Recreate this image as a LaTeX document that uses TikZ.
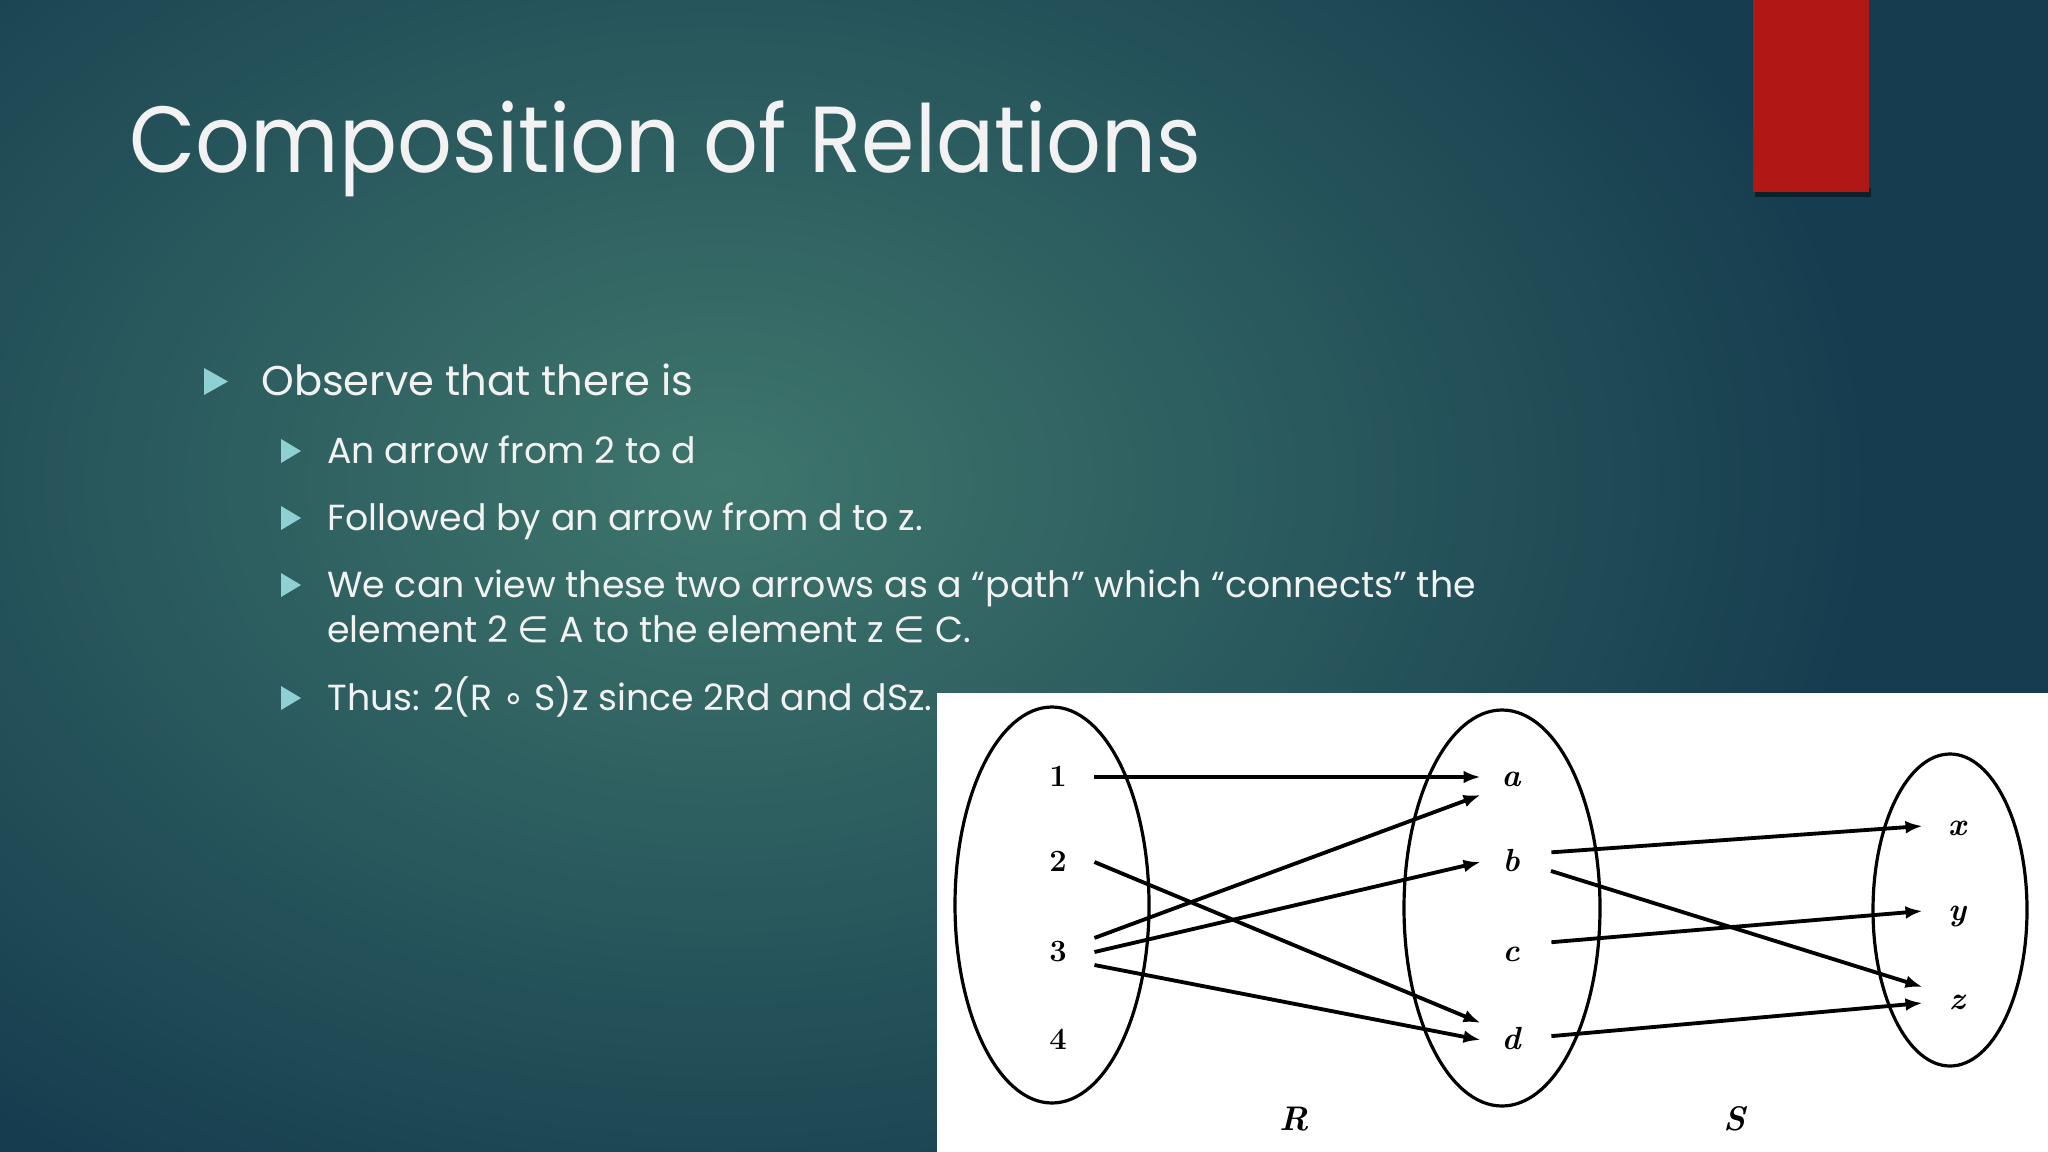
\documentclass[tikz,border=0pt]{standalone}
\usepackage{fontspec}
\setmainfont{Poppins}
\newfontfamily\titlefont{Poppins}[FakeStretch=0.915]
\newfontfamily\labfont{Latin Modern Roman}
\newfontfamily\symfont{DejaVu Sans}
\usetikzlibrary{arrows.meta}
\definecolor{bgdark}{HTML}{163D4F}
\definecolor{bglight}{HTML}{3E766C}
\definecolor{bulcol}{HTML}{8FD0D2}
\definecolor{redbox}{HTML}{B01815}
\definecolor{txt}{HTML}{F2F2F2}
\tikzset{
  titletext/.style={anchor=base west, inner sep=0pt, text=txt, font=\titlefont\fontsize{44}{50}\selectfont},
  lvlone/.style={anchor=base west, inner sep=0pt, text=txt, font=\fontsize{19.5}{23}\selectfont},
  lvltwo/.style={anchor=base west, inner sep=0pt, text=txt, font=\fontsize{17}{21}\selectfont},
  setline/.style={draw=black, line width=1.5pt},
  lab/.style={inner sep=0pt, text height=9pt, text depth=0pt, font=\labfont\fontsize{14.5}{16}\selectfont\bfseries},
  elemA/.style={lab, minimum width=33.75pt},
  elemB/.style={lab, minimum width=28.1pt, font=\labfont\fontsize{15}{16}\selectfont\bfseries\itshape},
  elemC/.style={lab, minimum width=31.9pt, font=\labfont\fontsize{15}{16}\selectfont\bfseries\itshape},
  relname/.style={inner sep=0pt, font=\labfont\fontsize{16}{17}\selectfont\bfseries\itshape},
  rel/.style={draw=black, line width=1.8pt, -{Latex[length=8pt,width=6pt]}},
  relout/.style={rel, shorten <=4.7pt}
}
\begin{document}
\begin{tikzpicture}[x=0.46875pt,y=-0.46875pt]
\useasboundingbox (0,0) rectangle (2048,1152);
% background
\fill[bgdark] (0,0) rectangle (2048,1152);
\begin{scope}
  \clip (0,0) rectangle (2048,1152);
  \shade[inner color=bglight, outer color=bgdark] (720,480) ellipse [x radius=1150, y radius=820];
\end{scope}
% red box with shadow
\fill[black, opacity=0.45] (1755,188) rectangle (1871,197);
\fill[redbox] (1753,0) rectangle (1869,192);
% title
\node[titletext] (title) at (129,173) {Composition of Relations};
% bullets
\fill[bulcol] (204,368) -- (228,381.5) -- (204,395) -- cycle;
\node[lvlone] (b1) at (261,395) {Observe that there is};
\fill[bulcol] (281,439) -- (301,451) -- (281,463) -- cycle;
\node[lvltwo] (b2) at (327,463) {An arrow from 2 to d};
\fill[bulcol] (281,506) -- (301,518) -- (281,530) -- cycle;
\node[lvltwo] (b3) at (327,530) {Followed by an arrow from d to z.};
\fill[bulcol] (281,573) -- (301,585) -- (281,597) -- cycle;
\node[lvltwo] (b4) at (327,597) {We can view these two arrows as a “path” which “connects” the};
\node[lvltwo] (b5) at (327,642) {element 2 {\symfont ∈} A to the element z {\symfont ∈} C.};
\fill[bulcol] (281,686) -- (301,698) -- (281,710) -- cycle;
\node[lvltwo] (b6) at (327,710) {Thus: 2(R {\symfont ∘} S)z since 2Rd and dSz.};
% picture
\fill[white] (937,693) rectangle (2048,1152);
\draw[setline] (1052,905) ellipse [x radius=97, y radius=198];
\draw[setline] (1502,908) ellipse [x radius=98, y radius=198];
\draw[setline] (1950,910) ellipse [x radius=77, y radius=156];
\node[elemA] (n1) at (1058,777) {1};
\node[elemA] (n2) at (1058,862) {2};
\node[elemA] (n3) at (1058,952) {3};
\node[elemA] (n4) at (1058,1040) {4};
\node[elemB] (a) at (1511,777) {a};
\node[elemB] (b) at (1511,862) {b};
\node[elemB] (c) at (1511,952) {c};
\node[elemB] (d) at (1511,1040) {d};
\node[elemC] (x) at (1957,826) {x};
\node[elemC] (y) at (1957,911) {y};
\node[elemC] (z) at (1957,1000) {z};
\node[relname] (R) at (1294,1119) {R};
\node[relname] (S) at (1735,1119) {S};
\draw[rel] (n1.east) -- (a.west);
\draw[rel] ([yshift=6.6pt]n3.east) -- ([yshift=-8.4pt]a.west);
\draw[rel] (n2.east) -- ([yshift=8pt]d.west);
\draw[rel] (n3.east) -- (b.west);
\draw[rel] ([yshift=-6.1pt]n3.east) -- (d.west);
\draw[relout] ([yshift=4.2pt]b.east) -- (x.west);
\draw[relout] ([yshift=-2.8pt]b.east) -- ([yshift=6.1pt]z.west);
\draw[relout] ([yshift=4.2pt]c.east) -- (y.west);
\draw[relout] ([yshift=1.4pt]d.east) -- ([yshift=-1.4pt]z.west);
\end{tikzpicture}
\end{document}
